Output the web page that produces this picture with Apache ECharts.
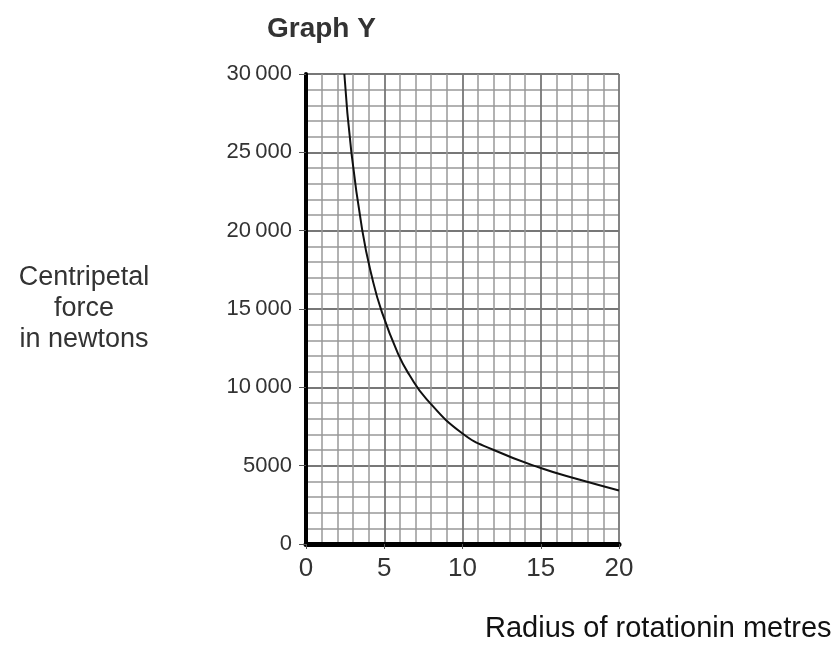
<!DOCTYPE html>
<html>
<head>
<meta charset="utf-8">
<script src="https://cdn.jsdelivr.net/npm/echarts@6/dist/echarts.min.js"></script>
<style>
  html, body { margin: 0; padding: 0; background: #fff; }
  #graph { width: 835px; height: 648px; }
</style>
</head>
<body>
<div id="graph"></div>
<script>
// values (radius in m, force in N)
const radius = [2.45, 2.9, 3.6, 4.2, 4.85, 5.9, 6.6, 7.7, 10, 12, 15, 17.5, 20];
const force = [30000, 25000, 20000, 17100, 14800, 12100, 10800, 9250, 7050, 6000, 4850, 4100, 3420];

const xTicks = [0, 5, 10, 15, 20];
const yTicks = [0, 5000, 10000, 15000, 20000, 25000, 30000];

const chartDom = document.getElementById('graph');
const chart = echarts.init(chartDom);

const option = {
  animation: false,
  title: [
    {
      text: 'Graph Y',
      left: 262,
      top: 10,
      textStyle: { fontFamily: 'Liberation Sans', fontSize: 28, fontWeight: 'bold', color: '#333' }
    },
    {
      text: 'Radius of rotationin metres',
      left: 480,
      top: 609,
      textStyle: { fontFamily: 'Liberation Sans', fontSize: 29, fontWeight: 'normal', color: '#111' }
    }
  ],
  grid: { left: 306, top: 74, right: 216, bottom: 104 },
  xAxis: {
    type: 'value',
    min: xTicks[0],
    max: xTicks[xTicks.length - 1],
    interval: 5,
    axisLine: { show: true, onZero: false, lineStyle: { color: '#000', width: 5 } },
    axisTick: { show: true, length: 5, lineStyle: { color: '#555', width: 1 } },
    axisLabel: { margin: 12, fontFamily: 'Liberation Sans', fontSize: 26, color: '#333' },
    splitLine: { show: true, lineStyle: { color: '#777', width: 1.8 } },
    minorTick: { show: false, splitNumber: 5 },
    minorSplitLine: { show: true, lineStyle: { color: '#999', width: 1.5 } }
  },
  yAxis: {
    type: 'value',
    min: yTicks[0],
    max: yTicks[yTicks.length - 1],
    interval: 5000,
    name: 'Centripetal\nforce\nin newtons',
    nameLocation: 'middle',
    nameRotate: 0,
    nameGap: 222,
    nameTextStyle: {
      align: 'center',
      fontFamily: 'Liberation Sans',
      fontSize: 27,
      lineHeight: 31,
      color: '#333',
      padding: [0, 0, 16, 0]
    },
    axisLine: { show: true, onZero: false, lineStyle: { color: '#000', width: 4 } },
    axisTick: { show: true, length: 7, lineStyle: { color: '#555', width: 1 } },
    axisLabel: {
      margin: 14,
      fontFamily: 'Liberation Sans',
      fontSize: 22,
      color: '#333',
      formatter: function (v) {
        if (v >= 10000) {
          const s = String(v);
          return s.slice(0, s.length - 3) + '\u2009' + s.slice(-3);
        }
        return String(v);
      }
    },
    splitLine: { show: true, lineStyle: { color: '#777', width: 1.8 } },
    minorTick: { show: false, splitNumber: 5 },
    minorSplitLine: { show: true, lineStyle: { color: '#999', width: 1.5 } }
  },
  series: [
    {
      type: 'line',
      data: radius.map((r, i) => [r, force[i]]),
      smooth: 0.5,
      showSymbol: false,
      lineStyle: { color: '#111', width: 2 },
      z: 5
    }
  ]
};

chart.setOption(option);
</script>
</body>
</html>
